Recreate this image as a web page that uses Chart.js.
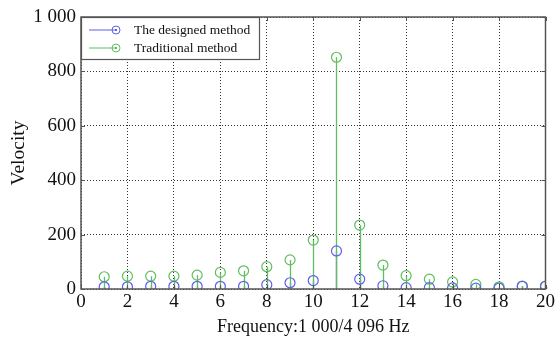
<!DOCTYPE html>
<html>
<head>
<meta charset="utf-8">
<script src="https://cdn.jsdelivr.net/npm/chart.js@4/dist/chart.umd.min.js"></script>
<style>
  html, body { margin: 0; padding: 0; background: #fff; }
  canvas { display: block; }
</style>
</head>
<body>
<canvas id="chart" width="557" height="342"></canvas>
<script>
// data
const freqs = [1, 2, 3, 4, 5, 6, 7, 8, 9, 10, 11, 12, 13, 14, 15, 16, 17, 18, 19, 20];
const designed = [8, 8, 10, 10, 10, 10, 10, 16, 23, 31, 140, 36, 12, 5, 5, 4, 3, 3, 10, 10];
const traditional = [45, 47, 47, 47, 51, 61, 67, 82, 107, 180, 852, 235, 88, 49, 36, 26, 17, 8, 11, 11];
const seriesNames = ["The designed method", "Traditional method"];
const xTicks = [0, 2, 4, 6, 8, 10, 12, 14, 16, 18, 20];
const yTicks = [0, 200, 400, 600, 800, 1000];

const BLUE = "rgb(95,95,235)";
const GREEN = "rgb(95,190,95)";
const FONT = "'Liberation Serif', 'Times New Roman', serif";

const fmt = v => v >= 1000 ? String(v).replace(/\B(?=(\d{3})+(?!\d))/g, " ") : String(v);

// stems: vertical line from each point down to 0, and the axes box + legend
const stemPlugin = {
  id: "stems",
  beforeDatasetsDraw(chart) {
    const ctx = chart.ctx;
    const y0 = chart.scales.y.getPixelForValue(0);
    ctx.save();
    ctx.lineWidth = 1.3;
    [0, 1].forEach(i => {
      const meta = chart.getDatasetMeta(i);
      ctx.strokeStyle = chart.data.datasets[i].borderColor;
      meta.data.forEach(pt => {
        ctx.beginPath();
        ctx.moveTo(Math.round(pt.x) + 0.5, pt.y);
        ctx.lineTo(Math.round(pt.x) + 0.5, y0);
        ctx.stroke();
      });
    });
    ctx.restore();
  },
  afterDraw(chart) {
    const ctx = chart.ctx;
    const a = chart.chartArea;
    ctx.save();
    // axes box
    ctx.strokeStyle = "#555";
    ctx.lineWidth = 1.5;
    ctx.strokeRect(a.left, a.top, a.right - a.left, a.bottom - a.top);
    // inner tick marks
    ctx.lineWidth = 1;
    chart.scales.x.ticks.forEach(t => {
      const x = Math.round(chart.scales.x.getPixelForValue(t.value)) + 0.5;
      ctx.beginPath();
      ctx.moveTo(x, a.bottom); ctx.lineTo(x, a.bottom - 4);
      ctx.moveTo(x, a.top); ctx.lineTo(x, a.top + 4);
      ctx.stroke();
    });
    chart.scales.y.ticks.forEach(t => {
      const y = Math.round(chart.scales.y.getPixelForValue(t.value)) + 0.5;
      ctx.beginPath();
      ctx.moveTo(a.left, y); ctx.lineTo(a.left + 4, y);
      ctx.moveTo(a.right, y); ctx.lineTo(a.right - 4, y);
      ctx.stroke();
    });
    // legend in the top-left corner
    const lx = a.left, ly = a.top, lw = 178, lh = 42;
    ctx.fillStyle = "#fff";
    ctx.fillRect(lx, ly, lw, lh);
    ctx.strokeStyle = "#555";
    ctx.lineWidth = 1.2;
    ctx.strokeRect(lx + 0.5, ly + 0.5, lw, lh);
    ctx.font = "13.5px " + FONT;
    ctx.textBaseline = "middle";
    chart.data.datasets.forEach((ds, i) => {
      const y = ly + 13 + i * 18;
      ctx.strokeStyle = ds.borderColor;
      ctx.lineWidth = 1;
      ctx.beginPath();
      ctx.moveTo(lx + 8, y); ctx.lineTo(lx + 35, y);
      ctx.stroke();
      ctx.beginPath();
      ctx.arc(lx + 35, y, 4, 0, Math.PI * 2);
      ctx.stroke();
      ctx.fillStyle = ds.borderColor;
      ctx.fillRect(lx + 34, y - 1, 2, 2);
      ctx.fillStyle = "#111";
      ctx.fillText(ds.label, lx + 53, y);
    });
    ctx.restore();
  }
};

new Chart(document.getElementById("chart"), {
  type: "scatter",
  data: {
    datasets: [
      {
        label: seriesNames[0],
        data: freqs.map((f, i) => ({ x: f, y: designed[i] })),
        borderColor: BLUE,
        backgroundColor: "rgba(0,0,0,0)",
        pointRadius: 5,
        pointBorderWidth: 1.2
      },
      {
        label: seriesNames[1],
        data: freqs.map((f, i) => ({ x: f, y: traditional[i] })),
        borderColor: GREEN,
        backgroundColor: "rgba(0,0,0,0)",
        pointRadius: 5,
        pointBorderWidth: 1.2
      }
    ]
  },
  options: {
    responsive: false,
    animation: false,
    layout: { padding: { top: 17, right: 9, left: 0, bottom: 0 } },
    plugins: { legend: { display: false }, tooltip: { enabled: false } },
    scales: {
      x: {
        type: "linear",
        min: 0,
        max: 20,
        afterBuildTicks: s => { s.ticks = xTicks.map(v => ({ value: v })); },
        afterFit: s => { s.height = 53; },
        ticks: { color: "#111", font: { family: FONT, size: 19 }, padding: 2, maxRotation: 0 },
        grid: { color: "#333", lineWidth: 1, drawTicks: false },
        border: { display: false, dash: [1, 2] },
        title: { display: true, text: "Frequency:1 000/4 096 Hz", color: "#111", font: { family: FONT, size: 18 }, padding: { top: 4 } }
      },
      y: {
        min: 0,
        max: 1000,
        afterBuildTicks: s => { s.ticks = yTicks.map(v => ({ value: v })); },
        afterFit: s => { s.width = 81; },
        ticks: { color: "#111", font: { family: FONT, size: 19 }, padding: 5, callback: v => fmt(v) },
        grid: { color: "#333", lineWidth: 1, drawTicks: false },
        border: { display: false, dash: [1, 2] },
        title: { display: true, text: "Velocity", color: "#111", font: { family: FONT, size: 19.5 }, padding: { top: 7, bottom: 0 } }
      }
    }
  },
  plugins: [stemPlugin]
});
</script>
</body>
</html>
